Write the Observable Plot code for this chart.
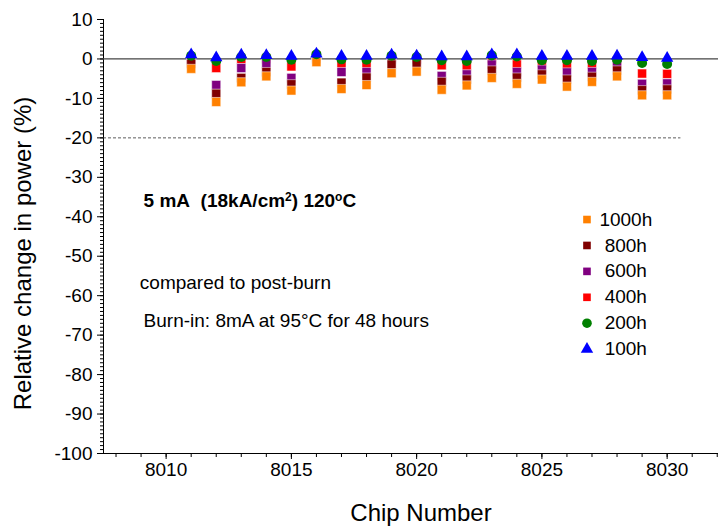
<!DOCTYPE html>
<html>
<head>
<meta charset="utf-8">
<script src="https://cdn.jsdelivr.net/npm/d3@7"></script>
<script src="https://cdn.jsdelivr.net/npm/@observablehq/plot@0.6"></script>
<style>
  html, body { margin: 0; padding: 0; background: #fff; }
  #chart { width: 719px; height: 527px; }
</style>
</head>
<body>
<div id="chart"></div>
<script>
// ---- data ----
const chips = [8011, 8012, 8013, 8014, 8015, 8016, 8017, 8018, 8019, 8020,
               8021, 8022, 8023, 8024, 8025, 8026, 8027, 8028, 8029, 8030];
const h100  = [1.1, 0.3, 1.0, 0.9, 0.7, 1.3, 0.7, 0.7, 1.0, 0.8, 0.6, 0.6, 1.1, 1.1, 0.7, 0.7, 0.7, 0.8, 0.4, 0.2];
const h200  = [0.8, -0.5, 0.5, 0.5, -0.2, 1.2, -0.1, -0.2, 0.8, 0.5, -0.3, -0.5, 0.9, 0.6, -0.3, -0.3, -0.5, -0.2, -1.0, -1.3];
const h400  = [0.0, -2.3, -0.1, 0.0, -1.9, 0.8, -1.2, -1.4, 0.3, 0.0, -1.6, -1.7, 0.0, -1.4, -1.0, -1.4, -1.4, -0.5, -3.7, -3.8];
const h600  = [-0.3, -6.6, -2.3, -1.3, -4.8, 0.5, -3.3, -3.3, 0.0, -0.2, -4.3, -3.9, -1.4, -3.3, -2.7, -3.4, -3.3, -1.6, -6.3, -6.2];
const h800  = [-1.2, -8.8, -4.8, -3.3, -6.4, 0.0, -6.0, -4.7, -1.4, -1.2, -5.8, -5.2, -2.9, -4.7, -3.9, -5.2, -4.5, -2.9, -7.9, -7.7];
const h1000 = [-2.5, -10.9, -5.9, -4.4, -8.0, -0.8, -7.6, -6.6, -3.6, -3.2, -7.8, -6.7, -4.8, -6.3, -5.2, -7.0, -5.8, -4.4, -9.2, -9.2];

const xTickLabels = [8010, 8015, 8020, 8025, 8030];
const yTickLabels = [10, 0, -10, -20, -30, -40, -50, -60, -70, -80, -90, -100];
const legendNames = ["1000h", "800h", "600h", "400h", "200h", "100h"];

// title pieces: [text, isSuperscript]
const titleParts = [["5 mA\u00a0 (18kA/cm", false], ["2", true], [") 120", false], ["o", true], ["C", false]];
const titleText = titleParts.map(p => p[0]).join("");
const note1 = "compared to post-burn";
const note2 = "Burn-in: 8mA at 95\u00b0C for 48 hours";
const xTitle = "Chip Number";
const yTitle = "Relative change in power (%)";
const thresholdLine = -20;

// ---- styles ----
const styles = {
  "1000h": {color: "#FF8000", symbol: "square", r: 5.1},
  "800h":  {color: "#800000", symbol: "square", r: 5.1},
  "600h":  {color: "#800080", symbol: "square", r: 5.1},
  "400h":  {color: "#FF0000", symbol: "square", r: 5.1},
  "200h":  {color: "#008000", symbol: "circle", r: 5},
  "100h":  {color: "#0000FF", symbol: "triangle", r: 4.6}
};
const seriesValues = {"1000h": h1000, "800h": h800, "600h": h600, "400h": h400, "200h": h200, "100h": h100};
const drawOrder = ["400h", "600h", "800h", "1000h", "200h", "100h"];

const table = s => chips.map((c, i) => ({chip: c, value: seriesValues[s][i], series: s}));

const font = "'Liberation Sans', Arial, sans-serif";
const xDomain = [8007.5, 8032.05];

const dotMarks = drawOrder.map(s => Plot.dot(table(s), {
  x: "chip", y: "value",
  symbol: () => styles[s].symbol,
  r: styles[s].r,
  fill: styles[s].color,
  stroke: styles[s].symbol === "square" ? "#fff" : "none",
  strokeWidth: 0.5
}));

// legend rows (layout positions in data space)
const legendRows = legendNames.map((n, i) => ({name: n, row: i}));
const legX = 8026.8, legLabelX = 8028.35, legTop = -40.7, legStep = 6.57;

const legendDots = legendRows.map(d => Plot.dot([d], {
  x: () => legX,
  y: dd => legTop - dd.row * legStep,
  symbol: () => styles[d.name].symbol,
  r: styles[d.name].symbol === "triangle" ? 4.6 : (styles[d.name].symbol === "circle" ? 4.8 : 4.3),
  fill: styles[d.name].color
}));

const chart = Plot.plot({
  width: 719,
  height: 527,
  marginLeft: 103,
  marginRight: 1,
  marginTop: 19,
  marginBottom: 74,
  style: {fontFamily: font, background: "#fff", color: "#000"},
  x: {domain: xDomain, label: null},
  y: {domain: [-100, 10], label: null},
  marks: [
    // minor ticks
    Plot.axisX(d3.range(8008, 8033), {tickSize: 4, text: null, label: null, stroke: "#000"}),
    Plot.axisY(d3.range(-100, 11, 1), {tickSize: 3, text: null, label: null, stroke: "#000"}),
    // major ticks + labels
    Plot.axisX(xTickLabels, {tickSize: 6, tickPadding: 3, fontSize: 19, label: null, tickFormat: d => String(d), stroke: "#000"}),
    Plot.axisY(yTickLabels, {tickSize: 6, tickPadding: 5, fontSize: 19, label: null, tickFormat: d => String(d), stroke: "#000"}),
    // axis lines
    Plot.ruleX([xDomain[0]], {stroke: "#000", strokeWidth: 1}),
    Plot.ruleY([-100], {stroke: "#000", strokeWidth: 1}),
    // reference lines
    Plot.ruleY([0], {stroke: "#444", strokeWidth: 1.2}),
    Plot.ruleY([thresholdLine], {x1: xDomain[0], x2: 8030.55, stroke: "#333", strokeWidth: 0.8, strokeDasharray: "3,2"}),
    // data
    ...dotMarks,
    // legend
    ...legendDots,
    Plot.text(legendRows, {
      x: () => legLabelX,
      y: d => legTop - d.row * legStep,
      text: "name", fontSize: 19, textAnchor: "middle", fill: "#000"
    }),
    // annotations
    Plot.text([titleText], {x: () => 8009.1, y: () => -35.9, text: d => d, textAnchor: "start", fontSize: 19, fontWeight: "bold", fill: "#000"}),
    Plot.text([note1], {x: () => 8008.95, y: () => -56.7, text: d => d, textAnchor: "start", fontSize: 19, fill: "#000"}),
    Plot.text([note2], {x: () => 8009.1, y: () => -66.3, text: d => d, textAnchor: "start", fontSize: 19, fill: "#000"}),
    // axis titles
    Plot.text([yTitle], {frameAnchor: "left", dx: -80, dy: 17, rotate: -90, textAnchor: "middle", lineAnchor: "middle", text: d => d, fontSize: 24, fill: "#000"}),
    Plot.text([xTitle], {frameAnchor: "bottom", dx: 10, dy: 60, textAnchor: "middle", lineAnchor: "middle", text: d => d, fontSize: 24, fill: "#000"})
  ]
});

// render superscripts in the bold title
d3.select(chart).selectAll("text").filter(function() { return this.textContent === titleText; })
  .each(function() {
    const t = d3.select(this);
    t.text(null);
    let prevSup = false;
    titleParts.forEach(([s, sup]) => {
      const ts = t.append("tspan").text(s);
      if (sup) ts.attr("dy", "-0.45em").attr("font-size", "12px");
      else if (prevSup) ts.attr("dy", "0.45em").attr("dy", "5.4px");
      prevSup = sup;
    });
  });

document.getElementById("chart").appendChild(chart);
</script>
</body>
</html>
